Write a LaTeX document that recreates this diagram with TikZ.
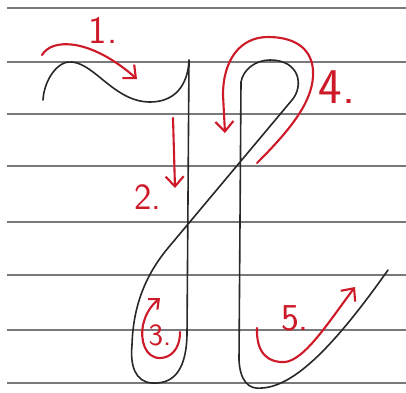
\documentclass[tikz,border=0pt]{standalone}
\usepackage{tikz}
\usetikzlibrary{arrows.meta}
\definecolor{penred}{RGB}{205,25,40}
\definecolor{pencil}{RGB}{40,40,40}
\definecolor{ruled}{RGB}{120,120,125}
\begin{document}
\begin{tikzpicture}[x=1pt,y=-1pt,
  rule/.style={ruled,line width=1.8pt},
  stroke/.style={pencil,line width=1.6pt,line cap=round,line join=round},
  marker/.style={penred,line width=2.1pt,line cap=round,-{Straight Barb[length=10pt,width=18pt]}},
  num/.style={penred,inner sep=0pt,font=\sffamily\fontsize{#1}{#1}\selectfont}]
\useasboundingbox (0,0) rectangle (406,392);
\fill[white](0,0) rectangle (406,392);
\foreach \y in {8,62,114,166,222,275,330,383} \draw[rule](7,\y)--(406,\y);
\draw[stroke](43,100) .. controls (44,80) and (58,60) .. (72,62) .. controls (95,64) and (115,102) .. (150,102)
  .. controls (175,102) and (188,85) .. (189,60) -- (187,335) .. controls (186,375) and (170,384) .. (152,383)
  .. controls (135,382) and (130,365) .. (132,345) .. controls (133,310) and (143,278) .. (168,248) -- (292,100)
  .. controls (304,86) and (300,60) .. (270,60) .. controls (255,60) and (243,70) .. (241,82) -- (239,360)
  .. controls (240,380) and (248,390) .. (262,388) .. controls (295,386) and (335,345) .. (388,270);
\draw[marker](42,55) .. controls (52,38) and (90,38) .. (137,79);
\draw[marker](173,118)--(175,188);
\draw[marker,-{Straight Barb[length=8pt,width=14pt]}](180,332) .. controls (180,350) and (170,358) .. (160,358)
  .. controls (145,358) and (140,340) .. (143,325) .. controls (146,312) and (152,305) .. (160,298);
\draw[marker](257,163) .. controls (290,130) and (315,100) .. (313,70) .. controls (311,45) and (290,37) .. (268,37)
  .. controls (240,37) and (223,60) .. (223,95) -- (225,133);
\draw[marker](257,328) .. controls (256,355) and (270,363) .. (285,362) .. controls (305,360) and (330,320) .. (355,287);
\node[num=39] (n1) at (103,30) {1.};
\node[num=37] (n2) at (148,197) {2.};
\node[num=31] (n3) at (160,335) {3.};
\node[num=50] (n4) at (337,87) {4.};
\node[num=38] (n5) at (295,318) {5.};
\end{tikzpicture}
\end{document}
